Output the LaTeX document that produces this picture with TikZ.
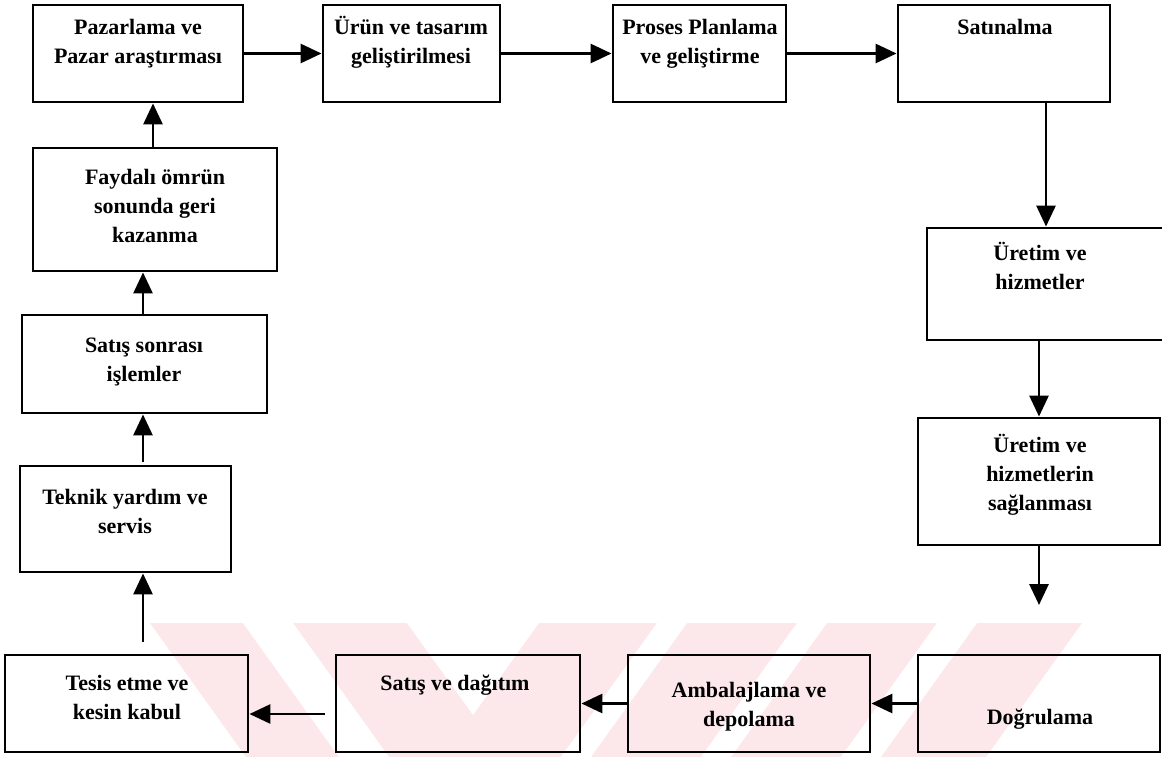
\documentclass[tikz,border=0pt]{standalone}
\usepackage{fontspec}
\setmainfont{Liberation Serif}
\usetikzlibrary{arrows.meta}
\definecolor{wmpink}{RGB}{252,231,235}
\begin{document}
\begin{tikzpicture}[x=1pt,y=-1pt,
  box/.style={draw, line width=2.9pt, inner sep=0pt},
  txt/.style={align=center, inner sep=0pt, anchor=base,
    font=\fontsize{22}{29}\bfseries\selectfont},
  arr/.style={line width=2.9pt, -{Triangle[length=21pt,width=19pt]}}]

% page
\fill[white] (0,0) rectangle (1162,757);
\useasboundingbox (0,0) rectangle (1162,757);

% faint striped mark along the bottom
\fill[wmpink] (150,623) -- (1082,623) -- (986,757) -- (246,757) -- cycle;
\fill[white] (243,623) -- (293,623) -- (389,757) -- (339,757) -- cycle;
\fill[white] (407,623) -- (539,623) -- (473,715) -- cycle;
\fill[white] (657,623) -- (687,623) -- (591,757) -- (561,757) -- cycle;
\fill[white] (797,623) -- (827,623) -- (731,757) -- (701,757) -- cycle;
\fill[white] (937,623) -- (977,623) -- (881,757) -- (841,757) -- cycle;

% boxes
\node[box, minimum width=210, minimum height=97]  (A) at (138,53.5)   {};
\node[box, minimum width=177, minimum height=97]  (B) at (411.5,53.5) {};
\node[box, minimum width=173, minimum height=97]  (C) at (699.5,53.5) {};
\node[box, minimum width=212, minimum height=97]  (D) at (1004,53.5)  {};
\node[box, minimum width=238, minimum height=112] (E) at (1046,284)   {};
\node[box, minimum width=242, minimum height=127] (F) at (1039,481.5) {};
\node[box, minimum width=242, minimum height=97]  (G) at (1039,703.5) {};
\node[box, minimum width=242, minimum height=97]  (H) at (749,703.5)  {};
\node[box, minimum width=244, minimum height=97]  (I) at (458,703.5)  {};
\node[box, minimum width=243, minimum height=97]  (J) at (126.5,703.5) {};
\node[box, minimum width=211, minimum height=106] (K) at (125.5,519)  {};
\node[box, minimum width=245, minimum height=98]  (L) at (144.5,364)  {};
\node[box, minimum width=244, minimum height=123] (M) at (155,209.5)  {};

% labels (anchored at the baseline of their last line)
\node[txt] (At) at (138,64)   {Pazarlama ve\\Pazar araştırması};
\node[txt] (Bt) at (411,64)   {Ürün ve tasarım\\geliştirilmesi};
\node[txt] (Ct) at (700,64)   {Proses Planlama\\ve geliştirme};
\node[txt] (Dt) at (1005,35)  {Satınalma};
\node[txt] (Et) at (1040,289) {Üretim ve\\hizmetler};
\node[txt] (Ft) at (1040,510) {Üretim ve\\hizmetlerin\\sağlanması};
\node[txt] (Gt) at (1040,724) {Doğrulama};
\node[txt] (Ht) at (749,726)  {Ambalajlama ve\\depolama};
\node[txt] (It) at (455,690)  {Satış ve dağıtım};
\node[txt] (Jt) at (127,719)  {Tesis etme ve\\kesin kabul};
\node[txt] (Kt) at (125,533)  {Teknik yardım ve\\servis};
\node[txt] (Lt) at (144,381)  {Satış sonrası\\işlemler};
\node[txt] (Mt) at (155,242)  {Faydalı ömrün\\sonunda geri\\kazanma};

% free arrow ends
\coordinate (fg) at (1039,605);
\coordinate (ij) at (325,714);
\coordinate (jk) at (143,642);
\coordinate (kl) at (143,462);

% connectors
\draw[arr] (A.east) -- (B.west);
\draw[arr] (B.east) -- (C.west);
\draw[arr] (C.east) -- (D.west);
\draw[arr] (E.north |- D.south) -- (E.north);
\draw[arr] (F.north |- E.south) -- (F.north);
\draw[arr] (F.south) -- (fg);
\draw[arr] (G.west) -- (H.east);
\draw[arr] (H.west) -- (I.east);
\draw[arr] (ij) -- (ij -| J.east);
\draw[arr] (jk) -- (jk |- K.south);
\draw[arr] (kl) -- (kl |- L.south);
\draw[arr] (L.north -| jk) -- (jk |- M.south);
\draw[arr] (M.north -| 153,0) -- (A.south -| 153,0);
\end{tikzpicture}
\end{document}
